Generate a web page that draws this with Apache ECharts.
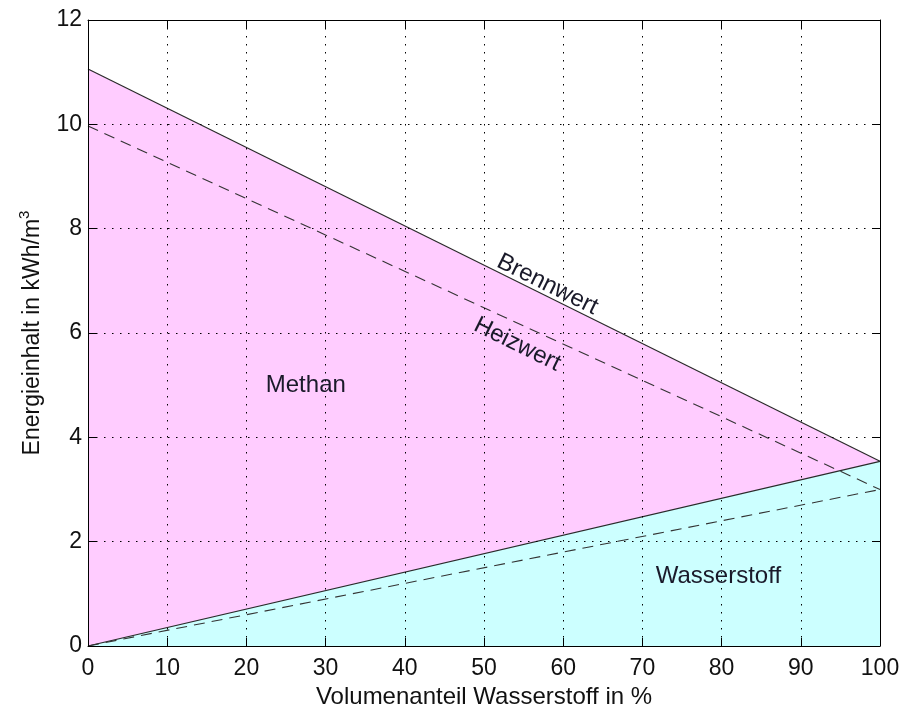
<!DOCTYPE html>
<html>
<head>
<meta charset="utf-8">
<script src="https://cdn.jsdelivr.net/npm/echarts@6/dist/echarts.min.js"></script>
<style>html,body{margin:0;padding:0;background:#fff}#c{width:906px;height:709px}</style>
</head>
<body>
<div id="c"></div>
<script>
// Data (Volumenanteil Wasserstoff in %, Energieinhalt in kWh/m3)
const xShare = [0, 100];
const brennwertTotal = [11.06, 3.54];   // upper solid line
const brennwertH2 = [0, 3.54];          // lower solid line
const heizwertTotal = [9.97, 3.0];      // upper dashed line
const heizwertH2 = [0, 3.0];            // lower dashed line
const xTicks = [0, 10, 20, 30, 40, 50, 60, 70, 80, 90, 100];
const yTicks = [0, 2, 4, 6, 8, 10, 12];
const regionLabels = [
  {text: 'Methan', x: 27.5, y: 4.99, rot: 0},
  {text: 'Wasserstoff', x: 79.6, y: 1.34, rot: 0},
  {text: 'Brennwert', x: 58.0, y: 6.93, rot: 1},
  {text: 'Heizwert', x: 54.2, y: 5.78, rot: 1}
];

const FONT = 'Liberation Sans, Arial, sans-serif';
const pts = (ys) => xShare.map((x, i) => [x, ys[i]]);
const chart = echarts.init(document.getElementById('c'), null, {renderer: 'canvas'});

const gridLine = {show: true, lineStyle: {color: '#000', type: [1.5, 6.5], width: 1}};
const baseAxis = {
  type: 'value', z: 10,
  axisLine: {show: true, onZero: false, lineStyle: {color: '#000', width: 1}},
  axisTick: {show: true, inside: true, length: 8, lineStyle: {color: '#000'}},
};

const option = {
  animation: false,
  textStyle: {fontFamily: FONT},
  grid: {left: 88, right: 26, top: 20, bottom: 63, containLabel: false, outerBoundsMode: 'none'},
  xAxis: [
    Object.assign({}, baseAxis, {
      min: 0, max: 100, interval: 10, position: 'bottom',
      axisLabel: {color: '#111', fontSize: 23, fontFamily: FONT, margin: 11},
      splitLine: gridLine,
      name: 'Volumenanteil Wasserstoff in %', nameLocation: 'middle', nameGap: 36,
      nameTextStyle: {color: '#111', fontSize: 24, fontFamily: FONT}
    }),
    Object.assign({}, baseAxis, {
      min: 0, max: 100, interval: 10, position: 'top',
      axisLabel: {show: false}, splitLine: {show: false}
    })
  ],
  yAxis: [
    Object.assign({}, baseAxis, {
      min: 0, max: 12, interval: 2, position: 'left',
      axisLabel: {color: '#111', fontSize: 23, fontFamily: FONT, margin: 6},
      splitLine: gridLine,
      name: '{a|Energieinhalt in kWh/m}{s|3}', nameLocation: 'middle', nameGap: 44,
      nameTextStyle: {
        color: '#111', fontFamily: FONT,
        rich: {a: {fontSize: 23, fontFamily: FONT, color: '#111', verticalAlign: 'bottom'},
               s: {fontSize: 15, fontFamily: FONT, color: '#111', verticalAlign: 'top', padding: [0, 0, 12, 0]}}
      }
    }),
    Object.assign({}, baseAxis, {
      min: 0, max: 12, interval: 2, position: 'right',
      axisLabel: {show: false}, splitLine: {show: false}
    })
  ],
  series: [
    {
      type: 'line', name: 'Methan', data: pts(brennwertTotal), symbol: 'none', z: 2,
      lineStyle: {color: '#2a2a2a', width: 1.2},
      areaStyle: {color: '#FFCCFF', opacity: 1, origin: 'start'}
    },
    {
      type: 'line', name: 'Wasserstoff', data: pts(brennwertH2), symbol: 'none', z: 3,
      lineStyle: {color: '#2a2a2a', width: 1.2},
      areaStyle: {color: '#CCFFFF', opacity: 1, origin: 'start'}
    },
    {
      type: 'line', name: 'Heizwert', data: pts(heizwertTotal), symbol: 'none', z: 4,
      lineStyle: {color: '#333', width: 1.1, type: [11, 7]}
    },
    {
      type: 'line', name: 'Heizwert H2', data: pts(heizwertH2), symbol: 'none', z: 4,
      lineStyle: {color: '#333', width: 1.1, type: [11, 7]}
    }
  ]
};
chart.setOption(option);

// slope angle of Brennwert line in pixels
const p0 = chart.convertToPixel({gridIndex: 0}, [xShare[0], brennwertTotal[0]]);
const p1 = chart.convertToPixel({gridIndex: 0}, [xShare[1], brennwertTotal[1]]);
const ang = Math.atan2(p1[1] - p0[1], p1[0] - p0[0]);
chart.setOption({
  graphic: regionLabels.map(l => {
    const p = chart.convertToPixel({gridIndex: 0}, [l.x, l.y]);
    return {
      type: 'text', x: p[0], y: p[1], rotation: l.rot ? -ang : 0, z: 20,
      style: {text: l.text, fill: '#1a1a2a', font: '24px ' + FONT, align: 'center', verticalAlign: 'middle'}
    };
  })
});
</script>
</body>
</html>
